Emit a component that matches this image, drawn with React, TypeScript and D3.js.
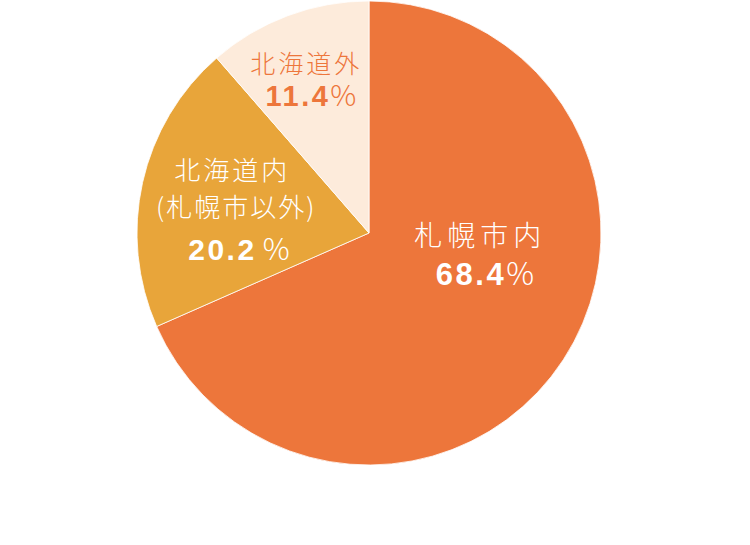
import * as d3 from 'd3'
import { useEffect, useRef } from 'react'

const WIDTH = 750
const HEIGHT = 545
const CX = 369
const CY = 233
const RADIUS = 232

const categories = ['札幌市内', '北海道内', '北海道外']
const values = [68.4, 20.2, 11.4]
const nameLines = [['札幌市内'], ['北海道内', '(札幌市以外)'], ['北海道外']]
const colors = ['#ED763B', '#E8A53A', '#FDEBDB']
const textColors = ['#ffffff', '#ffffff', '#ED763B']

// label placement relative to the slice centroid
const labelRadius = [0.5, 0.6, 0.6]
const labelShift: [number, number][] = [[14, -50], [-1, -23], [-14, -30]]
const nameSize = [28, 26, 25]
const nameSpacing = [5, 3, 3]
const numberSize = [31, 30, 29]

export default function App() {
  const svgRef = useRef<SVGSVGElement>(null)

  useEffect(() => {
    if (!svgRef.current) return
    const svg = d3.select(svgRef.current)
    svg.selectAll('*').remove()

    const data = categories.map((c, i) => ({ name: c, value: values[i], i }))
    const pie = d3.pie<typeof data[number]>().value(d => d.value).sort(null)
    const arcs = pie(data)
    const arc = d3.arc<d3.PieArcDatum<typeof data[number]>>().innerRadius(0).outerRadius(RADIUS)

    const g = svg.append('g').attr('transform', `translate(${CX},${CY})`)

    g.selectAll('path.slice')
      .data(arcs)
      .enter()
      .append('path')
      .attr('class', 'slice')
      .attr('d', arc)
      .attr('fill', d => colors[d.data.i])
      .attr('stroke', '#ffffff')
      .attr('stroke-width', 0.8)

    const labels = g.selectAll('g.label')
      .data(arcs)
      .enter()
      .append('g')
      .attr('class', 'label')
      .attr('transform', d => {
        const r = RADIUS * labelRadius[d.data.i]
        const [x, y] = d3.arc<d3.PieArcDatum<typeof data[number]>>()
          .innerRadius(r).outerRadius(r).centroid(d)
        const [sx, sy] = labelShift[d.data.i]
        return `translate(${x + sx},${y + sy})`
      })

    labels.each(function (d) {
      const lg = d3.select(this)
      const i = d.data.i
      const lines = nameLines[i]
      const step = 37
      lines.forEach((line, li) => {
        lg.append('text')
          .attr('x', li === 1 ? 4 : 0)
          .attr('y', li * step)
          .attr('text-anchor', 'middle')
          .attr('fill', textColors[i])
          .attr('font-family', '"Noto Sans CJK JP", "Noto Sans", sans-serif')
          .attr('font-size', nameSize[i])
          .attr('font-weight', 300)
          .attr('letter-spacing', li === 1 ? 2 : nameSpacing[i])
          .text(line)
      })
      const t = lg.append('text')
        .attr('x', i === 1 ? 8 : 6)
        .attr('y', (lines.length - 1) * step + (i === 0 ? 39 : i === 1 ? 43 : 33))
        .attr('text-anchor', 'middle')
        .attr('fill', textColors[i])
        .attr('font-family', '"Liberation Sans", Arial, sans-serif')
        .attr('font-size', numberSize[i])
        .attr('font-weight', 700)
        .attr('letter-spacing', 2.5)
      t.append('tspan').text(d.data.value.toFixed(1))
      t.append('tspan')
        .attr('font-family', '"Noto Sans CJK JP", sans-serif')
        .attr('font-weight', 300)
        .attr('dx', i === 1 ? 6 : 0)
        .text('%')
    })
  }, [])

  return (
    <svg
      ref={svgRef}
      width={WIDTH}
      height={HEIGHT}
      style={{ position: 'absolute', left: 0, top: 0, background: '#ffffff' }}
    />
  )
}
